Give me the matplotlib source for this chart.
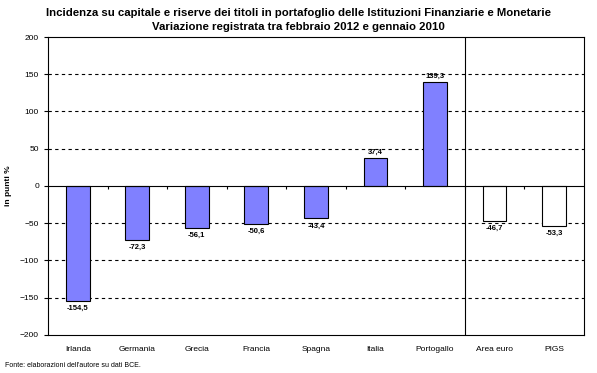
import numpy as np
import matplotlib
matplotlib.use("Agg")
import matplotlib.pyplot as plt

# === Data ===
paesi = ["Irlanda", "Germania", "Grecia", "Francia", "Spagna", "Italia",
         "Portogallo", "Area euro", "PIGS"]
variazione = [-154.5, -72.3, -56.1, -50.6, -43.4, 37.4, 139.3, -46.7, -53.3]
n_paesi = 7  # the first 7 are countries, the rest aggregates

plt.rcParams['font.family'] = ['Liberation Sans', 'DejaVu Sans']

fig = plt.figure(figsize=(5.97, 3.73), dpi=100)
ax = fig.add_axes([0.0804, 0.1019, 0.8976, 0.7989])

x = np.arange(len(paesi))
colori = ["#8080ff"] * n_paesi + ["white"] * (len(paesi) - n_paesi)
ax.bar(x, variazione, width=0.4, color=colori, edgecolor="black", linewidth=0.8, zorder=3)

# value labels
for xi, v in zip(x, variazione):
    testo = f"{v:.1f}".replace(".", ",")
    if v >= 0:
        ax.annotate(testo, (xi, v), xytext=(0, 2), textcoords="offset points",
                    ha="center", va="bottom", fontsize=5.5, fontweight="bold")
    else:
        ax.annotate(testo, (xi, v), xytext=(0, -3), textcoords="offset points",
                    ha="center", va="top", fontsize=5.5, fontweight="bold")

ax.set_xlim(-0.5, len(paesi) - 0.5)
ax.set_ylim(-200, 200)
ax.set_yticks(np.arange(-200, 201, 50))
ax.set_xticks(x)
ax.set_xticklabels(paesi)
ax.tick_params(axis="x", length=0, labelsize=6, pad=8)
ax.tick_params(axis="y", length=3, width=0.8, labelsize=6, direction="out")

# dashed grid
for y in [150, 100, 50, -50, -100, -150]:
    ax.axhline(y, color="black", linestyle=(0, (3, 3)), linewidth=0.8, zorder=1)

# zero axis with category ticks
ax.axhline(0, color="black", linewidth=0.8, zorder=4)
ax.vlines(x[:-1] + 0.5, -4, 0, color="black", linewidth=0.8, zorder=4)

# separator between countries and aggregates
ax.axvline(n_paesi - 0.5, color="black", linewidth=0.8, zorder=4)

for s in ax.spines.values():
    s.set_linewidth(0.8)

ax.set_ylabel("in punti %", fontsize=6, fontweight="bold")
ax.yaxis.set_label_coords(-0.067, 0.5)

fig.text(0.5, 0.965, "Incidenza su capitale e riserve dei titoli in portafoglio delle Istituzioni Finanziarie e Monetarie",
         ha="center", va="center", fontsize=8.2, fontweight="bold")
fig.text(0.5, 0.928, "Variazione registrata tra febbraio 2012 e gennaio 2010",
         ha="center", va="center", fontsize=8.2, fontweight="bold")
fig.text(0.008, 0.02, "Fonte: elaborazioni dell'autore su dati BCE.", ha="left", va="center", fontsize=5)

fig.savefig("out.png", dpi=100)
